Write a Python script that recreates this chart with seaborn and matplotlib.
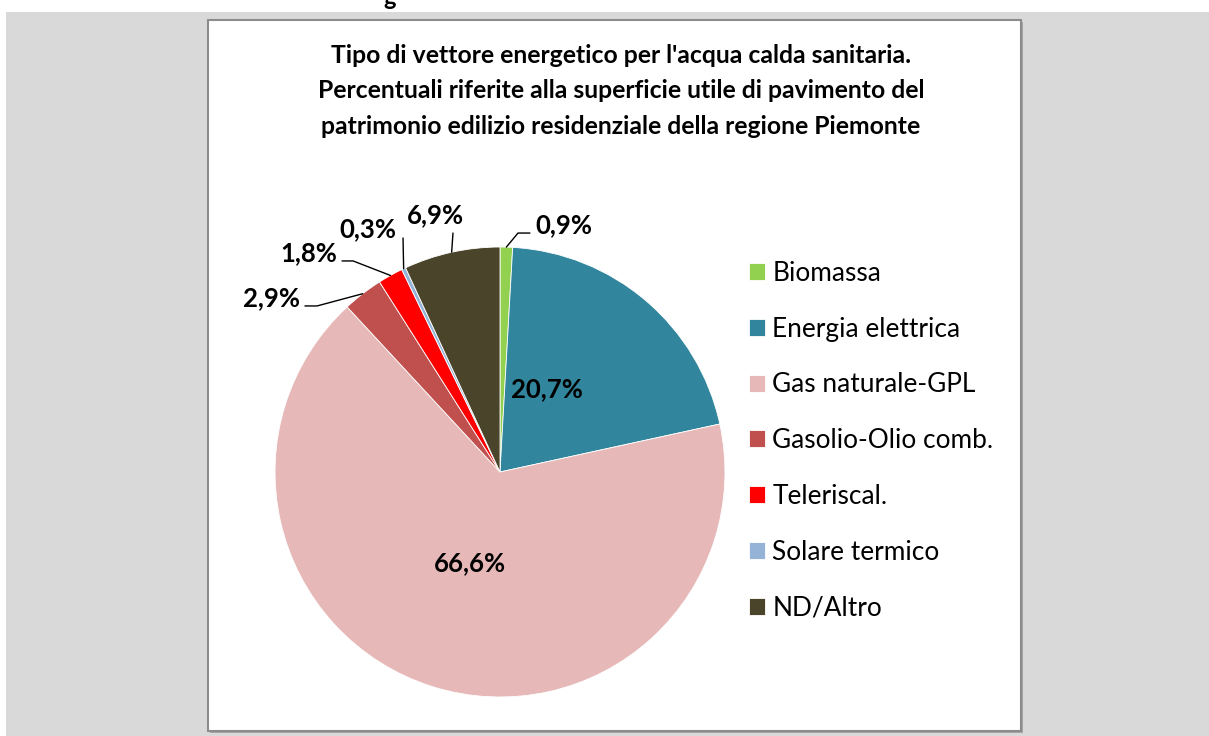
import numpy as np
import matplotlib
matplotlib.use('Agg')
import matplotlib.pyplot as plt
from matplotlib.patches import Rectangle
import seaborn as sns

# Data
categories = ['Biomassa', 'Energia elettrica', 'Gas naturale-GPL', 'Gasolio-Olio comb.',
              'Teleriscal.', 'Solare termico', 'ND/Altro']
shares = [0.9, 20.7, 66.6, 2.9, 1.8, 0.3, 6.9]
colors = ['#92d050', '#31859c', '#e6b9b8', '#c0504d', '#ff0000', '#95b3d7', '#4a452a']
title = ("Tipo di vettore energetico per l'acqua calda sanitaria.\n"
         "Percentuali riferite alla superficie utile di pavimento del\n"
         "patrimonio edilizio residenziale della regione Piemonte")

sns.set_theme(style='white')
plt.rcParams['font.family'] = ['Lato', 'DejaVu Sans']
plt.rcParams['text.color'] = 'black'

W, H = 1209, 736
fig = plt.figure(figsize=(W / 100, H / 100), dpi=100)
fig.patch.set_facecolor('white')

# page background + chart frame (behind the axes)
fig.patches.append(Rectangle((6 / W, 0), 1, (H - 12) / H, transform=fig.transFigure,
                             facecolor='#d9d9d9', edgecolor='none', zorder=-3))
fig.patches.append(Rectangle((210 / W, 3 / H), 813 / W, 711 / H, transform=fig.transFigure,
                             facecolor='#a6a6a6', edgecolor='none', zorder=-2))
fig.patches.append(Rectangle((208 / W, 5 / H), 813 / W, 711 / H, transform=fig.transFigure,
                             facecolor='white', edgecolor='#8c8c8c', linewidth=1.5, zorder=-1))
fig.text(383 / W, 1 - 5 / H, 'g', fontsize=17, fontweight='bold', ha='left', va='baseline')

# pie axes: center (500, 472) px, radius 225 px
cx, cy, r = 500, 472, 225
ax = fig.add_axes([(cx - r) / W, (H - cy - r) / H, 2 * r / W, 2 * r / H])
wedges, _ = ax.pie(shares, colors=colors, startangle=90, counterclock=False,
                   wedgeprops=dict(edgecolor='white', linewidth=0.6))
ax.set_xlim(-1, 1)
ax.set_ylim(-1, 1)
ax.set_aspect('equal')
ax.axis('off')

labels = [f"{v:.1f}".replace('.', ',') + '%' for v in shares]
lbl_kw = dict(fontsize=18.5, fontweight='bold', color='black')

# inside labels
inside = {1: (0.209, 0.369), 2: (-0.133, -0.404)}
for i, (x, y) in inside.items():
    ax.text(x, y, labels[i], ha='center', va='center', **lbl_kw)

# outside labels with leader lines: (elbow points, text pos, ha)
outside = {
    0: ([(0.080, 1.062), (0.133, 1.062)], (0.156, 1.098), 'left'),
    6: ([(-0.209, 1.062)], (-0.289, 1.142), 'center'),
    5: ([(-0.431, 1.040)], (-0.587, 1.080), 'center'),
    4: ([(-0.653, 0.938), (-0.702, 0.938)], (-0.724, 0.973), 'right'),
    3: ([(-0.813, 0.738), (-0.867, 0.738)], (-0.889, 0.773), 'right'),
}
for i, (pts, (tx, ty), ha) in outside.items():
    w = wedges[i]
    mid = np.deg2rad((w.theta1 + w.theta2) / 2)
    xs = [np.cos(mid)] + [p[0] for p in pts]
    ys = [np.sin(mid)] + [p[1] for p in pts]
    ax.plot(xs, ys, color='black', linewidth=1, clip_on=False)
    ax.text(tx, ty, labels[i], ha=ha, va='center', clip_on=False, **lbl_kw)

fig.text(621 / W, 1 - 91 / H, title, ha='center', va='center', fontsize=17.8,
         fontweight='bold', linespacing=1.68, color='black')

fig.legend(wedges, categories, loc='upper left', bbox_to_anchor=(749 / W, 1 - 261 / H),
           frameon=False, fontsize=18.9, handlelength=0.62, handleheight=0.62,
           handletextpad=0.27, labelspacing=1.17, borderpad=0, borderaxespad=0,
           labelcolor='black')

fig.savefig('out.png', dpi=100)
